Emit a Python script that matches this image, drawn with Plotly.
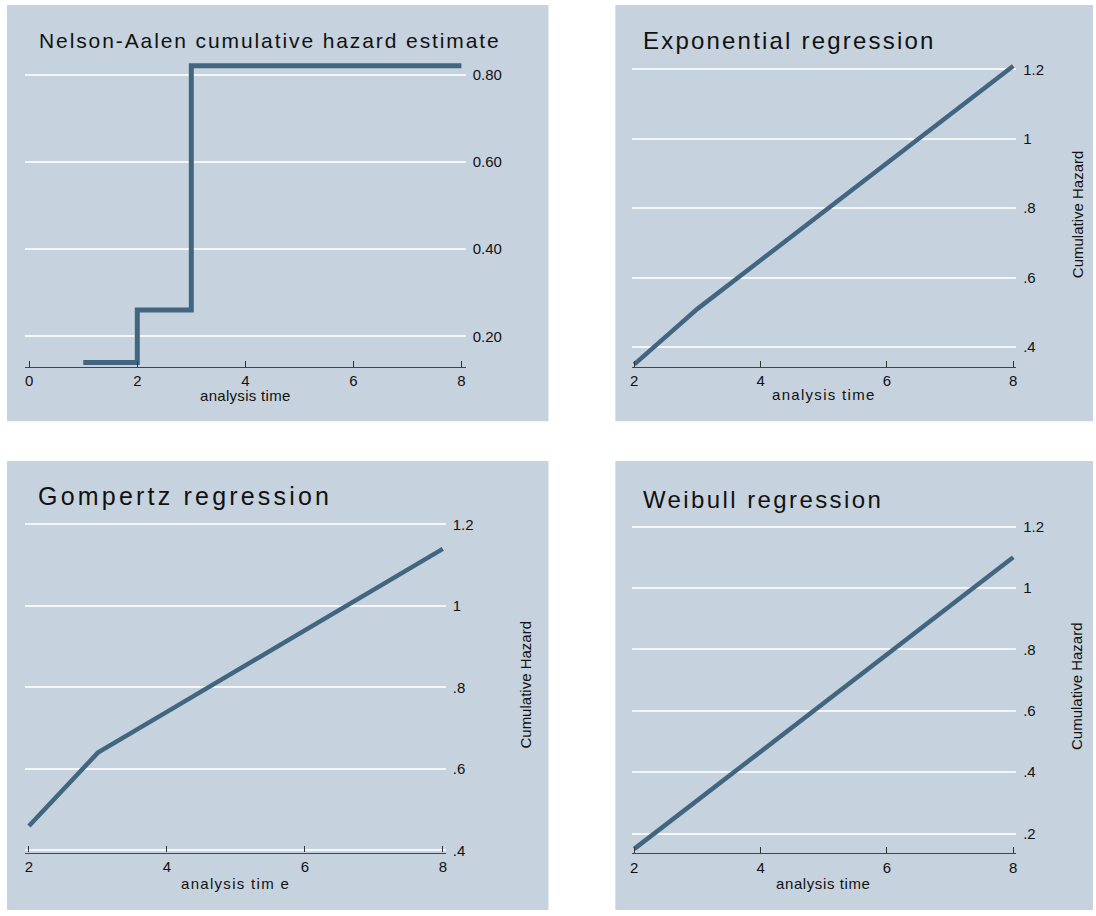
import plotly.graph_objects as go

# ---------------- data ----------------
na_time = [1, 2, 3, 8]
na_hazard = [0.14, 0.26, 0.82, 0.82]

reg_time = [2, 3, 4, 5, 6, 7, 8]
exp_hazard = [0.35, 0.51, 0.65, 0.79, 0.93, 1.07, 1.21]
gomp_hazard = [0.46, 0.64, 0.74, 0.84, 0.94, 1.04, 1.14]
weib_hazard = [0.150, 0.308, 0.467, 0.625, 0.783, 0.942, 1.100]

na_yticks = [0.2, 0.4, 0.6, 0.8]
na_ytext = ["0.20", "0.40", "0.60", "0.80"]
exp_yticks = [0.4, 0.6, 0.8, 1.0, 1.2]
exp_ytext = [".4", ".6", ".8", "1", "1.2"]
gomp_yticks = [0.4, 0.6, 0.8, 1.0, 1.2]
gomp_ytext = [".4", ".6", ".8", "1", "1.2"]
weib_yticks = [0.2, 0.4, 0.6, 0.8, 1.0, 1.2]
weib_ytext = [".2", ".4", ".6", ".8", "1", "1.2"]
na_xticks = [0, 2, 4, 6, 8]
reg_xticks = [2, 4, 6, 8]

titles = ["Nelson-Aalen cumulative hazard estimate", "Exponential regression",
          "Gompertz regression", "Weibull regression"]
xtitles = ["analysis time", "analysis time", "analysis tim e", "analysis time"]
ytitle = "Cumulative Hazard"

# ---------------- layout helpers ----------------
W, H = 1096, 916
def fx(px):
    return px / W
def fy(py):
    return 1 - py / H

PANEL = "#c6d3df"
LINE = "#426680"
GRID = "#f4f7fa"
FONT = "Liberation Sans, Arial, sans-serif"

fig = go.Figure()

# panel backgrounds
panels = [(5, 3, 548, 423), (615, 3, 1094, 423), (5, 463, 548, 916), (615, 463, 1094, 916)]
shapes = []
for (x0, y0, x1, y1) in panels:
    shapes.append(dict(type="rect", xref="paper", yref="paper",
                       x0=fx(x0), x1=fx(x1), y0=fy(y1), y1=fy(y0),
                       fillcolor=PANEL, line=dict(width=0), layer="below"))

# plot areas: (xpx0, xpx1, ypx_top, ypx_bottom, xrange, yrange)
areas = [
    (23, 465, 60, 368, [-0.08, 8.08], [0.13, 0.83]),
    (632, 1017, 60, 368, [1.968, 8.047], [0.343, 1.223]),
    (23, 445, 520, 858, [1.942, 8.043], [0.395, 1.217]),
    (632, 1017, 522, 859, [1.968, 8.047], [0.135, 1.223]),
]

series = [
    (na_time, na_hazard, "hv", 5),
    (reg_time, exp_hazard, "linear", 4.5),
    (reg_time, gomp_hazard, "linear", 4.5),
    (reg_time, weib_hazard, "linear", 4.5),
]
yt = [(na_yticks, na_ytext), (exp_yticks, exp_ytext), (gomp_yticks, gomp_ytext), (weib_yticks, weib_ytext)]
xt = [na_xticks, reg_xticks, reg_xticks, reg_xticks]

layout = dict(width=W, height=H, margin=dict(l=0, r=0, t=0, b=0),
              paper_bgcolor="white", plot_bgcolor="rgba(0,0,0,0)",
              showlegend=False, font=dict(family=FONT, color="#111"))

for i, ((xp0, xp1, yp0, yp1, xr, yr), (xs, ys, shape, lw)) in enumerate(zip(areas, series)):
    n = "" if i == 0 else str(i + 1)
    fig.add_trace(go.Scatter(x=xs, y=ys, mode="lines", line=dict(color=LINE, width=lw, shape=shape),
                             xaxis="x" + n, yaxis="y" + n, hoverinfo="skip"))
    layout["xaxis" + n] = dict(domain=[fx(xp0), fx(xp1)], range=xr, anchor="y" + n,
                               tickvals=xt[i], ticktext=[str(v) for v in xt[i]],
                               showgrid=False, zeroline=False, showline=True,
                               linecolor="#444", linewidth=1.3,
                               ticks="inside", ticklen=6, tickcolor="#333", tickwidth=1,
                               tickfont=dict(size=15, family=FONT, color="#111"))
    layout["yaxis" + n] = dict(domain=[fy(yp1), fy(yp0)], range=yr, anchor="x" + n, side="right",
                               tickvals=yt[i][0], ticktext=yt[i][1],
                               showgrid=True, gridcolor=GRID, gridwidth=1.6,
                               zeroline=False, showline=False, ticks="",
                               ticklabelstandoff=6,
                               tickfont=dict(size=15, family=FONT, color="#111"))

annotations = []
# titles
title_specs = [
    (268.5, 39, "center", 21, 1.9),
    (641, 38.5, "left", 24, 2.2),
    (34, 498, "left", 25, 3.2),
    (641, 501.5, "left", 24, 2.4),
]
for t, (x, y, anc, size, sp) in zip(titles, title_specs):
    annotations.append(dict(text=f'<span style="letter-spacing:{sp}px">{t}</span>',
                            xref="paper", yref="paper", x=fx(x), y=fy(y),
                            xanchor=anc, yanchor="middle", showarrow=False,
                            font=dict(size=size, family=FONT, color="#111")))
# x-axis titles
xt_specs = [(244, 397, 0.3), (824, 396, 1.3), (234, 889, 1.3), (824, 889, 0.6)]
for t, (x, y, sp) in zip(xtitles, xt_specs):
    annotations.append(dict(text=f'<span style="letter-spacing:{sp}px">{t}</span>',
                            xref="paper", yref="paper", x=fx(x), y=fy(y),
                            xanchor="center", yanchor="middle", showarrow=False,
                            font=dict(size=15, family=FONT, color="#111")))
# y-axis titles
for (x, y) in [(1078, 214), (525, 689), (1078, 690)]:
    annotations.append(dict(text=ytitle, xref="paper", yref="paper", x=fx(x), y=fy(y),
                            xanchor="center", yanchor="middle", textangle=-90, showarrow=False,
                            font=dict(size=15, family=FONT, color="#111")))

layout["shapes"] = shapes
layout["annotations"] = annotations
fig.update_layout(**layout)

fig.write_html("out.html", config={"displayModeBar": False},
               post_script="document.body.style.margin='0';")
